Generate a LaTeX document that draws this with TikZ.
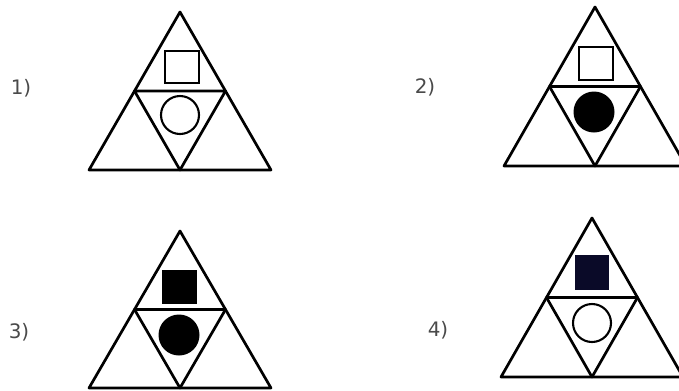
\documentclass[tikz,border=0pt]{standalone}
\usepackage{fontspec}
\setmainfont{DejaVu Sans}
\usetikzlibrary{calc}
\definecolor{labelgray}{HTML}{4A4A4A}
\definecolor{navy}{HTML}{0A0A28}
\tikzset{
  tri/.style={line width=2.7bp, line join=round},
  symb/.style={line width=2.1bp},
  lbl/.style={text=labelgray, font=\fontsize{20}{24}\selectfont, inner sep=0pt}
}
\newcommand{\figtri}[3]{%
  \coordinate (#1A) at #2;
  \coordinate (#1L) at ($#2+(-91,#3)$);
  \coordinate (#1R) at ($#2+(91,#3)$);
  \coordinate (#1P) at ($(#1A)!0.5!(#1L)$);
  \coordinate (#1Q) at ($(#1A)!0.5!(#1R)$);
  \coordinate (#1M) at ($(#1L)!0.5!(#1R)$);
  \draw[tri] (#1A) -- (#1L) -- (#1R) -- cycle;
  \draw[tri] (#1P) -- (#1Q) -- (#1M) -- cycle;
}
\begin{document}
\begin{tikzpicture}[x=1bp,y=-1bp]
\useasboundingbox (0,0) rectangle (679,390);
\fill[white] (0,0) rectangle (679,390);
% figure 1
\figtri{a}{(180,12)}{158}
\draw[symb] (165,51) rectangle (199,83);
\draw[symb] (180,115) circle [radius=19bp];
\node[lbl] (l1) at (21,88) {1)};
% figure 2
\figtri{b}{(595,7)}{159}
\draw[symb] (579,47) rectangle (613,80);
\fill (594,112) circle [radius=20.5bp];
\node[lbl] (l2) at (425,87) {2)};
% figure 3
\figtri{c}{(180,231)}{157}
\fill (162,270) rectangle (197,304);
\fill (179,335) circle [radius=20.5bp];
\node[lbl] (l3) at (19,332) {3)};
% figure 4
\figtri{d}{(592,218)}{159}
\fill[navy] (575,255) rectangle (609,290);
\draw[symb] (592,323) circle [radius=19bp];
\node[lbl] (l4) at (438,330) {4)};
\end{tikzpicture}
\end{document}
